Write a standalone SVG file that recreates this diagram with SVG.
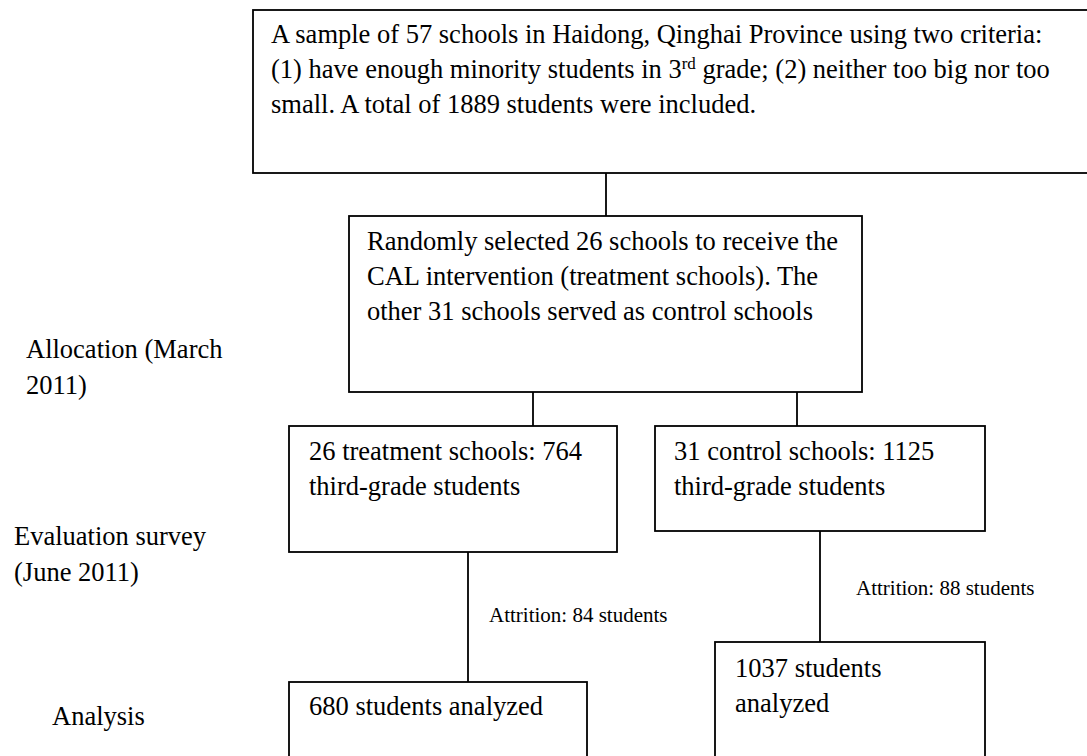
<svg xmlns="http://www.w3.org/2000/svg" width="1087" height="756" viewBox="0 0 1087 756">
<style>
  .box { fill: #ffffff; stroke: #000000; stroke-width: 1.8; }
  .t { font-family: "Liberation Serif", "Times New Roman", serif; font-size: 26.5px; fill: #000000; }
  .s { font-family: "Liberation Serif", "Times New Roman", serif; font-size: 21px; fill: #000000; }
  .c { stroke: #000000; stroke-width: 1.8; fill: none; }
</style>
<rect x="0" y="0" width="1087" height="756" fill="#ffffff"/>
<g id="connectors">
  <line class="c" x1="606" y1="173" x2="606" y2="216"/>
  <line class="c" x1="533" y1="392" x2="533" y2="426"/>
  <line class="c" x1="797" y1="392" x2="797" y2="426"/>
  <line class="c" x1="468" y1="552" x2="468" y2="687"/>
  <line class="c" x1="820" y1="531" x2="820" y2="642"/>
</g>
<g id="node-sample">
  <rect class="box" x="253" y="10" width="850" height="163"/>
  <text class="t" x="271" y="43">A sample of 57 schools in Haidong, Qinghai Province using two criteria:</text>
  <text class="t" x="271" y="78">(1) have enough minority students in 3<tspan baseline-shift="super" font-size="17">rd</tspan> grade; (2) neither too big nor too</text>
  <text class="t" x="271" y="113">small. A total of 1889 students were included.</text>
</g>
<g id="node-random">
  <rect class="box" x="349" y="216" width="513" height="176"/>
  <text class="t" x="367" y="250">Randomly selected 26 schools to receive the</text>
  <text class="t" x="367" y="285">CAL intervention (treatment schools). The</text>
  <text class="t" x="367" y="320">other 31 schools served as control schools</text>
</g>
<g id="node-treatment">
  <rect class="box" x="289" y="426" width="328" height="126"/>
  <text class="t" x="309" y="460">26 treatment schools: 764</text>
  <text class="t" x="309" y="495">third-grade students</text>
</g>
<g id="node-control">
  <rect class="box" x="655" y="426" width="330" height="105"/>
  <text class="t" x="674" y="460">31 control schools: 1125</text>
  <text class="t" x="674" y="495">third-grade students</text>
</g>
<g id="node-analyzed-t">
  <rect class="box" x="289" y="682" width="298" height="100"/>
  <text class="t" x="309" y="715">680 students analyzed</text>
</g>
<g id="node-analyzed-c">
  <rect class="box" x="715" y="642" width="270" height="140"/>
  <text class="t" x="735" y="677">1037 students</text>
  <text class="t" x="735" y="712">analyzed</text>
</g>
<g id="labels">
  <text class="s" x="489" y="622">Attrition: 84 students</text>
  <text class="s" x="856" y="595">Attrition: 88 students</text>
  <text class="t" x="26" y="358">Allocation (March</text>
  <text class="t" x="26" y="394">2011)</text>
  <text class="t" x="14" y="545">Evaluation survey</text>
  <text class="t" x="14" y="581">(June 2011)</text>
  <text class="t" x="52" y="725">Analysis</text>
</g>
</svg>
